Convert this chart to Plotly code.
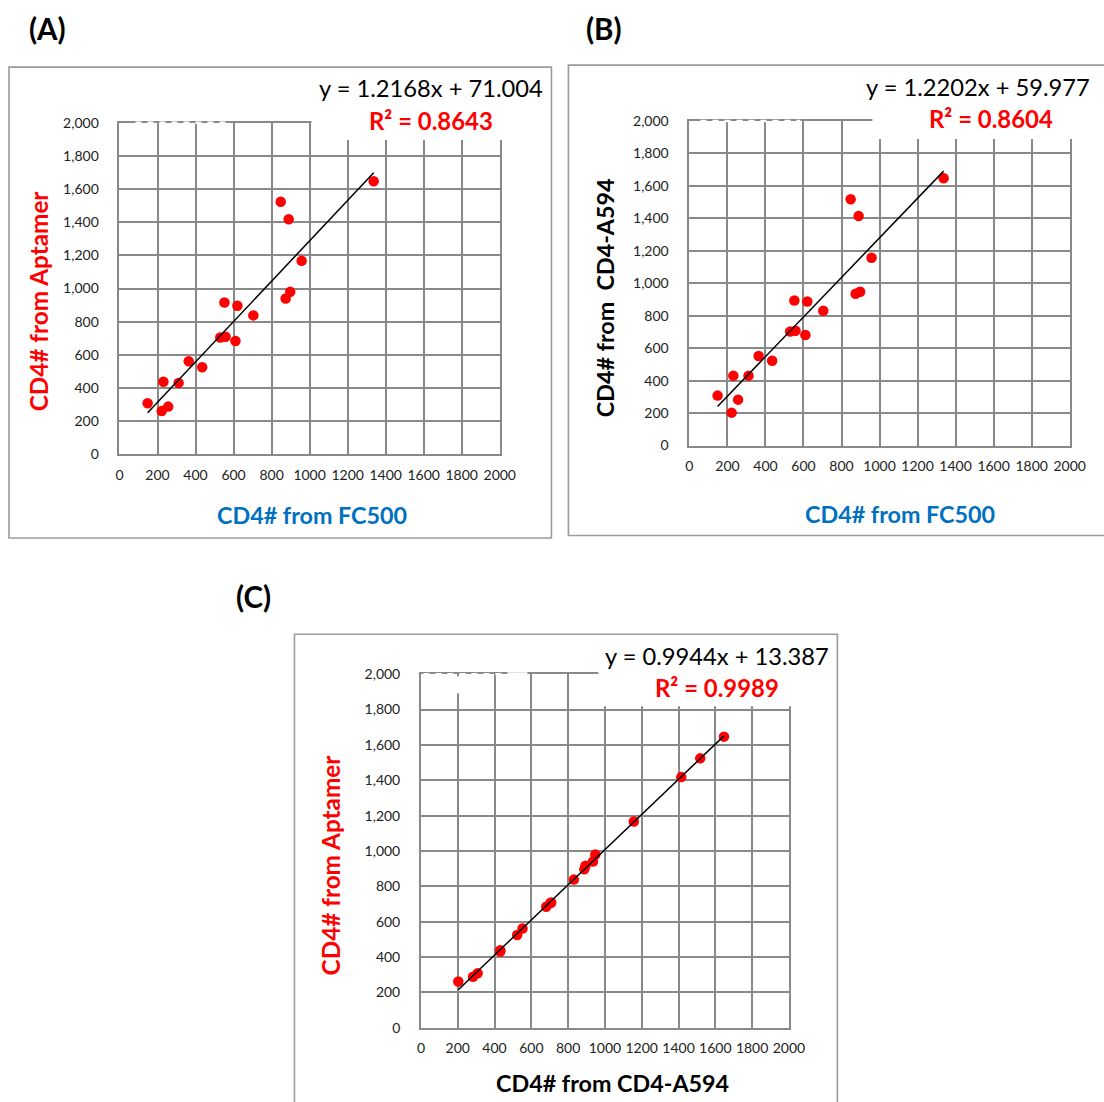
import plotly.graph_objects as go

# ---------------- data ----------------
fc500 = [1337, 848, 890, 958, 898, 874, 552, 620, 704, 530, 558, 610, 364, 435, 231, 311, 148, 222, 256]
aptamer = [1647, 1524, 1418, 1167, 980, 940, 916, 896, 838, 705, 709, 684, 561, 525, 438, 431, 308, 262, 288]
a594 = [1647, 1518, 1415, 1157, 948, 935, 894, 888, 831, 703, 708, 681, 552, 523, 431, 431, 308, 203, 283]

fit_a = {"slope": 1.2168, "intercept": 71.004, "r2": 0.8643}
fit_b = {"slope": 1.2202, "intercept": 59.977, "r2": 0.8604}
fit_c = {"slope": 0.9944, "intercept": 13.387, "r2": 0.9989}

tick_vals = list(range(0, 2001, 200))
x_tick_text = [str(v) for v in tick_vals]
y_tick_text = [f"{v:,}" for v in tick_vals]

W, H = 1104, 1102
# measured relation between figure pixels and the photographed picture
SX, OX = 0.982, 3.5
SY, OY = 0.986, 7.8
FONT = "Lato, 'Open Sans', sans-serif"
RED = "#FF0000"
BLUE = "#0070C0"
GRID = "#898989"
BOX = "#9c9c9c"


def px(x):
    return ((x - OX) / SX) / W


def py(y):
    return 1 - ((y - OY) / SY) / H


fig = go.Figure()

panels = [
    (fc500, aptamer, fit_a, "", (119, 499.3, 453.8, 121.7)),
    (fc500, a594, fit_b, "2", (689, 1069.3, 445, 120)),
    (a594, aptamer, fit_c, "3", (420.5, 788.5, 1028, 674)),
]

for xs, ys, fit, sfx, (x0, x1, y0, y1) in panels:
    xa = "x" + sfx
    ya = "y" + sfx
    fig.add_trace(go.Scatter(
        x=xs, y=ys, mode="markers", xaxis=xa, yaxis=ya,
        marker=dict(color=RED, size=10.5, line=dict(width=0)), showlegend=False))
    lx = [min(xs), max(xs)]
    ly = [fit["slope"] * v + fit["intercept"] for v in lx]
    fig.add_trace(go.Scatter(
        x=lx, y=ly, mode="lines", xaxis=xa, yaxis=ya,
        line=dict(color="black", width=1.5), showlegend=False))
    common = dict(range=[0, 2000], tickmode="array", tickvals=tick_vals,
                  showgrid=True, gridcolor=GRID, gridwidth=1.8,
                  showline=True, linecolor=GRID, linewidth=1.8, mirror=True,
                  zeroline=False, ticks="outside", tickcolor="rgba(0,0,0,0)",
                  tickfont=dict(family=FONT, size=14, color="#222"), fixedrange=True)
    fig.update_layout(**{
        "xaxis" + sfx: dict(common, domain=[px(x0), px(x1)], anchor=ya,
                            ticktext=x_tick_text, ticklen=7, tickangle=0),
        "yaxis" + sfx: dict(common, domain=[py(y0), py(y1)], anchor=xa,
                            ticktext=y_tick_text, ticklen=16),
    })

shapes = []
# panel frames (B runs off the right edge, C off the bottom edge)
for (bx0, by0, bx1, by1) in [(8.5, 66, 551, 537.5), (568, 64, 1130, 535), (294, 634, 837, 1130)]:
    shapes.append(dict(type="rect", xref="paper", yref="paper",
                       x0=px(bx0), x1=px(bx1), y0=py(by1), y1=py(by0),
                       line=dict(color=BOX, width=1.6), fillcolor="rgba(0,0,0,0)", layer="above"))
for (wx0, wy0, wx1, wy1) in [(311, 100, 549, 139), (872, 100, 1130, 138), (598, 640, 835, 706)]:
    shapes.append(dict(type="rect", xref="paper", yref="paper",
                       x0=px(wx0), x1=px(wx1), y0=py(wy1), y1=py(wy0),
                       line=dict(width=0), fillcolor="white", layer="above"))
for (dx0, dx1, dy) in [(135, 228, 121.7), (700, 800, 120), (423, 507, 674)]:
    shapes.append(dict(type="line", xref="paper", yref="paper",
                       x0=px(dx0), x1=px(dx1), y0=py(dy), y1=py(dy),
                       line=dict(color="white", width=2.5, dash="6px,6px"), layer="above"))
shapes.append(dict(type="rect", xref="paper", yref="paper",
                   x0=px(507), x1=px(527), y0=py(676), y1=py(672),
                   line=dict(width=0), fillcolor="white", layer="above"))
shapes.append(dict(type="rect", xref="paper", yref="paper",
                   x0=px(452), x1=px(492), y0=py(693), y1=py(676),
                   line=dict(width=0), fillcolor="white", layer="above"))

ann = []


def text(x, y, s, size, color="black", bold=False, angle=0, anchor="center"):
    ann.append(dict(x=px(x), y=py(y), xref="paper", yref="paper", text=f"<b>{s}</b>" if bold else s,
                    showarrow=False, xanchor=anchor, yanchor="middle", textangle=angle,
                    font=dict(family=FONT, size=size, color=color)))


text(47, 27, "(A)", 29.5, bold=True)
text(604, 27, "(B)", 29.5, bold=True)
text(253, 596, "(C)", 29.5, bold=True)

for (cx, ey, ry, rx, fit) in [(431, 87, 119, 431, fit_a), (978, 86, 117, 991, fit_b),
                              (717, 656, 687, 717, fit_c)]:
    text(cx, ey, f"y = {fit['slope']:.4f}x + {fit['intercept']:.3f}", 23.7)
    text(rx, ry, f"R² = {fit['r2']:.4f}", 23.9, color=RED, bold=True)

TS = 23.3
text(38, 300, "CD4# from Aptamer", 24.3, color=RED, bold=True, angle=-90)
text(312, 515, "CD4# from FC500", TS, color=BLUE, bold=True)
text(604, 297, "CD4# from  CD4-A594", TS, color="black", bold=True, angle=-90)
text(900, 514, "CD4# from FC500", TS, color=BLUE, bold=True)
text(330, 865, "CD4# from Aptamer", 24.3, color=RED, bold=True, angle=-90)
text(612, 1083, "CD4# from CD4-A594", TS, color="black", bold=True)

fig.update_layout(
    width=W, height=H, margin=dict(l=0, r=0, t=0, b=0),
    paper_bgcolor="white", plot_bgcolor="white",
    shapes=shapes, annotations=ann, showlegend=False,
)

fig.write_html("out.html")
